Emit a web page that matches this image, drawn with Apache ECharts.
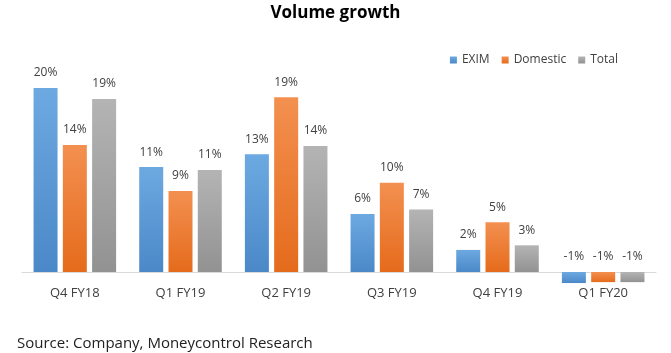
<!DOCTYPE html>
<html>
<head>
    <meta charset="utf-8">
    <title>Volume growth</title>
    <script src="https://cdn.jsdelivr.net/npm/echarts@6/dist/echarts.min.js"></script>
</head>
<body style="margin:0">
    <div id="main" style="width: 671px;height:353px;"></div>
    <script type="text/javascript">
        // values (labels shown rounded)
        var quarters = ['Q4 FY18', 'Q1 FY19', 'Q2 FY19', 'Q3 FY19', 'Q4 FY19', 'Q1 FY20'];
        var exim = [20.0, 11.4, 12.8, 6.3, 2.4, -1.2];
        var domestic = [13.8, 8.8, 19.0, 9.7, 5.4, -1.1];
        var total = [18.8, 11.1, 13.7, 6.8, 2.9, -1.1];

        var font = 'Open Sans';
        function grad(top, bottom) {
            return new echarts.graphic.LinearGradient(0, 0, 0, 1, [
                { offset: 0, color: top },
                { offset: 1, color: bottom }
            ]);
        }
        function barSeries(name, data, top, bottom) {
            return {
                name: name,
                type: 'bar',
                data: data,
                barWidth: 24,
                barGap: '22%',
                itemStyle: { color: grad(top, bottom) },
                label: {
                    show: true,
                    position: 'top',
                    distance: 9,
                    color: '#404040',
                    fontFamily: font,
                    fontSize: 12,
                    formatter: function (p) { return Math.round(p.value) + '%'; }
                }
            };
        }

        var myChart = echarts.init(document.getElementById('main'));
        var option = {
            animation: false,
            color: ['#5B9BD5', '#ED7D31', '#A5A5A5'],
            title: [{
                text: 'Volume growth',
                left: 'center',
                top: 0,
                textStyle: { fontFamily: font, fontSize: 17, fontWeight: 'bold', color: '#000' }
            }, {
                text: 'Source: Company, Moneycontrol Research',
                left: 12,
                top: 331,
                textStyle: { fontFamily: font, fontSize: 15, fontWeight: 'normal', color: '#222' }
            }],
            legend: {
                right: 48,
                top: 49,
                icon: 'rect',
                itemWidth: 7,
                itemHeight: 7,
                itemGap: 12,
                textStyle: { fontFamily: font, fontSize: 12, color: '#404040' },
                data: ['EXIM', 'Domestic', 'Total']
            },
            grid: { left: 22, right: 15, top: 69.6, height: 220.8, containLabel: false },
            xAxis: {
                type: 'category',
                data: quarters,
                axisLine: { onZero: true, lineStyle: { color: '#D9D9D9' } },
                axisTick: { show: false },
                axisLabel: { margin: -4, color: '#404040', fontFamily: font, fontSize: 13 }
            },
            yAxis: {
                type: 'value',
                min: -2,
                max: 22,
                show: false,
                splitLine: { show: false }
            },
            series: [
                barSeries('EXIM', exim, '#6DA9E1', '#4A88C8'),
                barSeries('Domestic', domestic, '#F39050', '#E56B1C'),
                barSeries('Total', total, '#B4B4B4', '#929292')
            ]
        };
        myChart.setOption(option);
    </script>
</body>
</html>
